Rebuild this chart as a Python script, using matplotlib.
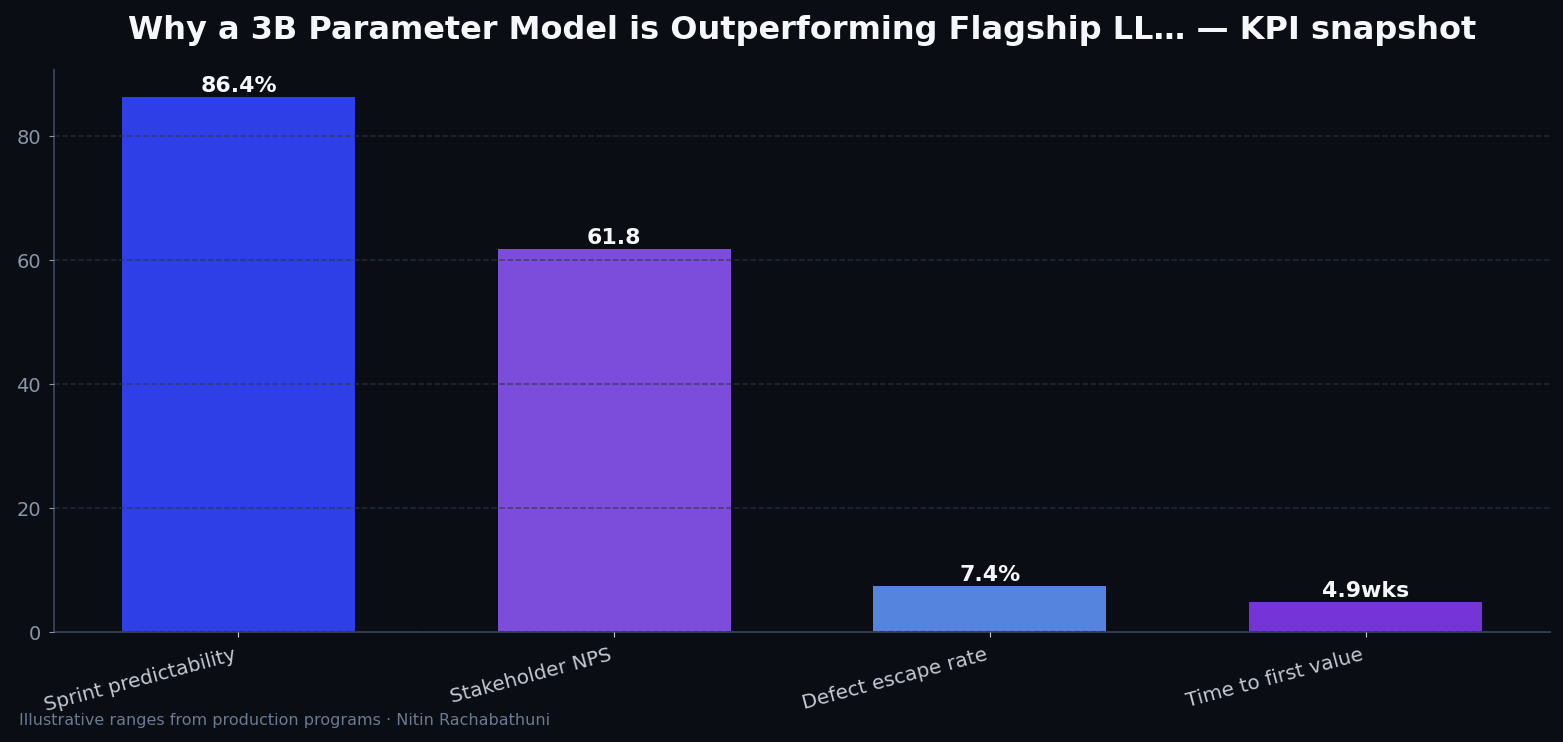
import matplotlib
matplotlib.use("Agg")
import matplotlib.pyplot as plt

categories = ["Sprint predictability", "Stakeholder NPS", "Defect escape rate", "Time to first value"]
values = [86.4, 61.8, 7.4, 4.9]
value_labels = ["86.4%", "61.8", "7.4%", "4.9wks"]
colors = ["#2E3FE8", "#7C4DDB", "#5484DE", "#7434D8"]

BG = "#0A0D14"
fig = plt.figure(figsize=(15.63, 7.42), dpi=100, facecolor=BG)
ax = fig.add_axes([54/1563, 1-632/742, (1550-54)/1563, (632-70)/742])
ax.set_facecolor(BG)

x = list(range(len(categories)))
bars = ax.bar(x, values, width=0.62, color=colors, zorder=1)
ax.set_ylim(0, max(values) * 1.05)

for b, lab in zip(bars, value_labels):
    ax.annotate(lab, (b.get_x() + b.get_width() / 2, b.get_height()),
                xytext=(0, 0.5), textcoords="offset points", ha="center", va="bottom",
                color="#F5F7FA", fontsize=15.8, fontweight="bold")

ax.set_xticks(x)
ax.set_xticklabels(categories, rotation=15, ha="right", rotation_mode="default",
                   color="#C3CAD6", fontsize=14.4)
ax.tick_params(axis="y", colors="#8A96A8", labelsize=14, pad=6)
ax.tick_params(axis="x", colors="#C3CAD6", pad=6)
for t in ax.get_xticklines() + ax.get_yticklines():
    t.set_color("#3A4556")
ax.yaxis.grid(True, linestyle="--", color="#2A3448", alpha=0.7, linewidth=1.1, zorder=2)
ax.set_axisbelow(False)
for s in ["top", "right"]:
    ax.spines[s].set_visible(False)
for s in ["left", "bottom"]:
    ax.spines[s].set_color("#3A4556")
    ax.spines[s].set_linewidth(1.3)

ax.set_title("Why a 3B Parameter Model is Outperforming Flagship LL\u2026 \u2014 KPI snapshot",
             color="#F5F7FA", fontsize=23, fontweight="bold", pad=22)
fig.text(19/1563, 1-720/742, "Illustrative ranges from production programs \u00b7 Nitin Rachabathuni",
         color="#6B7A90", fontsize=11.55, va="center", ha="left")

fig.savefig("out.png", dpi=100, facecolor=BG)
